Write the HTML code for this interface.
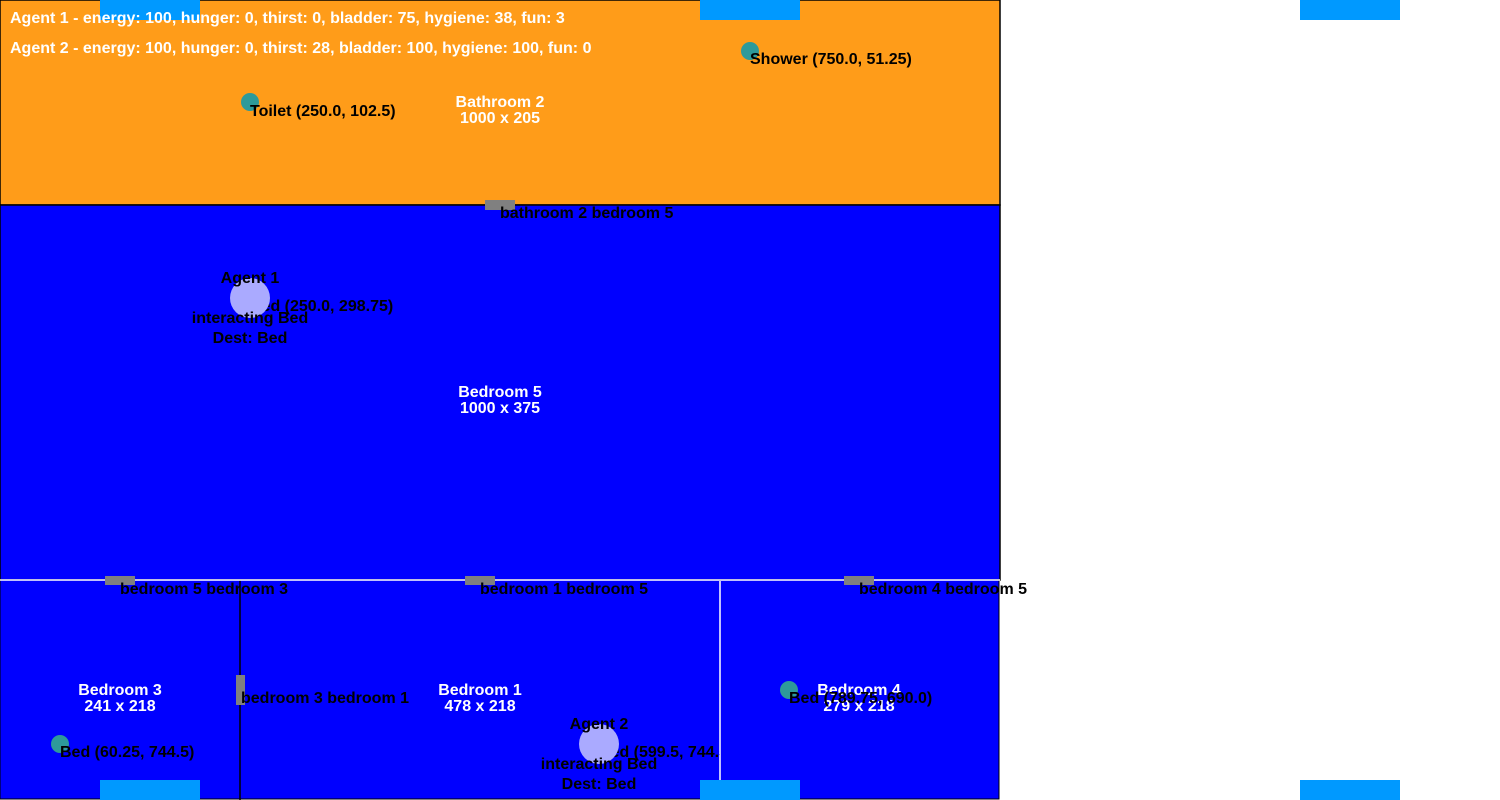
<!DOCTYPE html>
<html><head><meta charset="utf-8"><style>
html,body{margin:0;padding:0;background:#fff;width:1500px;height:800px;overflow:hidden}
svg text{font-family:"Liberation Sans",sans-serif;font-weight:bold;font-size:16px}
.w{fill:#fff}.k{fill:#000}
</style></head><body>
<svg width="1500" height="800" viewBox="0 0 1500 800">
<defs><clipPath id="c1"><rect x="240" y="580" width="480" height="220"/></clipPath></defs>
<rect x="0" y="0" width="1000" height="205" fill="#ff9c19" stroke="#000" stroke-width="1.5"/>
<rect x="0" y="205" width="1000" height="375" fill="#0000ff" stroke="#000" stroke-width="1.5"/>
<rect x="0" y="580" width="240" height="219" fill="#0000ff" stroke="#000"/>
<rect x="240" y="580" width="480" height="219" fill="#0000ff" stroke="#000"/>
<rect x="720" y="580" width="279" height="219" fill="#0000ff" stroke="#000"/>
<line x1="0" y1="580" x2="1000" y2="580" stroke="#fff" stroke-width="1.5"/>
<line x1="720" y1="581" x2="720" y2="780" stroke="#fff" stroke-width="1.5"/>
<line x1="240" y1="581" x2="240" y2="800" stroke="#000" stroke-width="1.5"/>
<g fill="#0099ff">
<rect x="100" y="0" width="100" height="20"/><rect x="700" y="0" width="100" height="20"/><rect x="1300" y="0" width="100" height="20"/>
<rect x="100" y="780" width="100" height="20"/><rect x="700" y="780" width="100" height="20"/><rect x="1300" y="780" width="100" height="20"/>
</g>
<g fill="#808080">
<rect x="485" y="200" width="30" height="10"/><rect x="105" y="576" width="30" height="9"/><rect x="465" y="576" width="30" height="9"/><rect x="844" y="576" width="30" height="9"/><rect x="236" y="675" width="9" height="30"/>
</g>
<text class="w" x="10" y="23">Agent 1 - energy: 100, hunger: 0, thirst: 0, bladder: 75, hygiene: 38, fun: 3</text>
<text class="w" x="10" y="53">Agent 2 - energy: 100, hunger: 0, thirst: 28, bladder: 100, hygiene: 100, fun: 0</text>
<g fill="#2e9a9a">
<circle cx="250" cy="102" r="9"/>
<circle cx="750" cy="51" r="9"/>
<circle cx="60" cy="744" r="9"/>
<circle cx="789" cy="690" r="9"/>
</g>
<text class="k" x="250" y="116">Toilet (250.0, 102.5)</text>
<text class="k" x="750" y="64">Shower (750.0, 51.25)</text>
<text class="k" x="60" y="757">Bed (60.25, 744.5)</text>
<text class="k" x="250" y="311">Bed (250.0, 298.75)</text>
<text class="k" x="599" y="757" clip-path="url(#c1)">Bed (599.5, 744.5)</text>
<g text-anchor="middle" class="w">
<text x="500" y="107">Bathroom 2</text><text x="500" y="123">1000 x 205</text>
<text x="500" y="397">Bedroom 5</text><text x="500" y="413">1000 x 375</text>
<text x="120" y="695">Bedroom 3</text><text x="120" y="711">241 x 218</text>
<text x="480" y="695">Bedroom 1</text><text x="480" y="711">478 x 218</text>
<text x="859" y="695">Bedroom 4</text><text x="859" y="711">279 x 218</text>
</g>
<text class="k" x="789" y="703">Bed (789.75, 690.0)</text>
<g class="k">
<text x="500" y="218">bathroom 2 bedroom 5</text>
<text x="120" y="594">bedroom 5 bedroom 3</text>
<text x="480" y="594">bedroom 1 bedroom 5</text>
<text x="859" y="594">bedroom 4 bedroom 5</text>
<text x="241" y="703">bedroom 3 bedroom 1</text>
</g>
<circle cx="250" cy="298" r="20" fill="#aaaaff"/>
<circle cx="599" cy="744" r="20" fill="#aaaaff"/>
<g text-anchor="middle" class="k">
<text x="250" y="283">Agent 1</text><text x="250" y="323">interacting Bed</text><text x="250" y="343">Dest: Bed</text>
<text x="599" y="729">Agent 2</text><text x="599" y="769">interacting Bed</text><text x="599" y="789">Dest: Bed</text>
</g>
</svg>
</body></html>
